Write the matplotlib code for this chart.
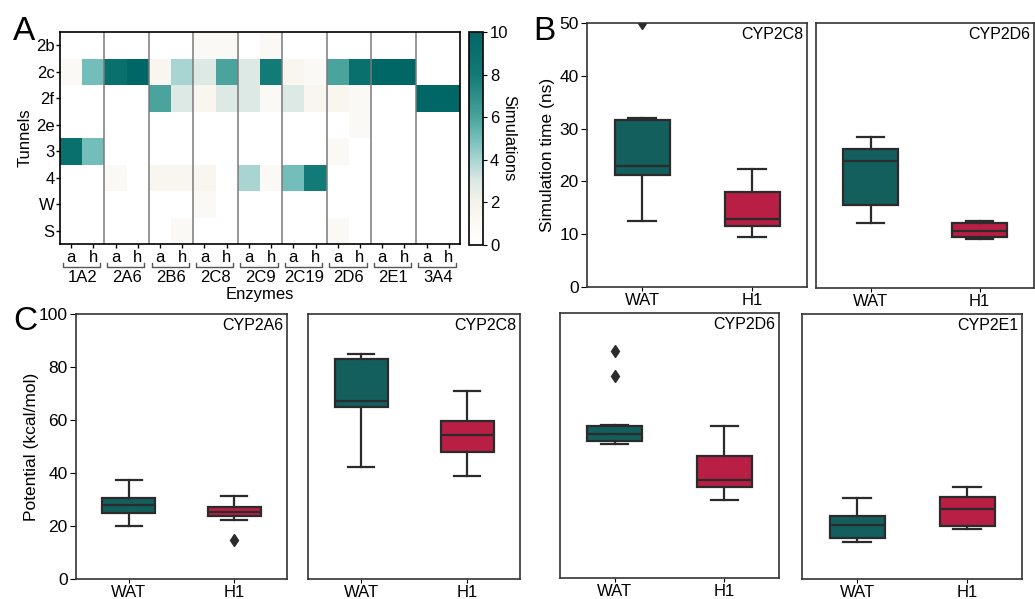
import numpy as np
import matplotlib
matplotlib.use("Agg")
import matplotlib.pyplot as plt
from matplotlib.colors import LinearSegmentedColormap
import matplotlib.transforms as mtransforms

plt.rcParams['font.family'] = ['Liberation Sans', 'DejaVu Sans']

# ---------------- data ----------------
tunnels = ['2b', '2c', '2f', '2e', '3', '4', 'W', 'S']
enzymes = ['1A2', '2A6', '2B6', '2C8', '2C9', '2C19', '2D6', '2E1', '3A4']
subcols = ['a', 'h']

row_2b = [0, 0, 0, 0, 0, 0, 1, 1, 0, 1, 0, 0, 0, 0, 0, 0, 0, 0]
row_2c = [1, 5, 9, 10, 1.5, 4, 3, 6, 3, 8, 1.5, 1, 6, 9, 10, 10, 0, 0]
row_2f = [0, 0, 0, 0, 6, 3, 1.5, 3, 3, 1, 3, 1.5, 1.5, 1, 0, 0, 10, 10]
row_2e = [0, 0, 0, 0, 0, 0, 0, 0, 0, 0, 0, 0, 0, 1, 0, 0, 0, 0]
row_3 = [9, 5, 0, 0, 0, 0, 0, 0, 0, 0, 0, 0, 1, 0, 0, 0, 0, 0]
row_4 = [0, 0, 1, 0, 1.5, 1.5, 1.5, 0, 4, 1, 5, 8, 0, 0, 0, 0, 0, 0]
row_W = [0, 0, 0, 0, 0, 0, 1, 0, 0, 0, 0, 0, 0, 0, 0, 0, 0, 0]
row_S = [0, 0, 0, 0, 0, 1, 0, 0, 0, 0, 0, 0, 1, 0, 0, 0, 0, 0]

groups = ['WAT', 'H1']
# box stats: [whislo, q1, median, q3, whishi]
b_2c8_wat = [12.5, 21.2, 22.9, 31.6, 32.1]; b_2c8_wat_fl = [50.0]
b_2c8_h1 = [9.4, 11.5, 12.9, 17.9, 22.4];   b_2c8_h1_fl = []
b_2d6_wat = [12.3, 15.7, 23.9, 26.2, 28.5]; b_2d6_wat_fl = []
b_2d6_h1 = [9.3, 9.6, 10.7, 12.2, 12.7];    b_2d6_h1_fl = []

c_2a6_wat = [19.9, 24.9, 27.8, 30.5, 37.4]; c_2a6_wat_fl = []
c_2a6_h1 = [22.3, 23.7, 25.4, 27.2, 31.2];  c_2a6_h1_fl = [14.6]
c_2c8_wat = [42.3, 64.9, 67.3, 83.0, 85.0]; c_2c8_wat_fl = []
c_2c8_h1 = [39.0, 47.9, 54.2, 59.6, 70.9];  c_2c8_h1_fl = []
c_2d6_wat = [50.7, 51.7, 54.2, 57.2, 57.6]; c_2d6_wat_fl = [76.1, 85.5]
c_2d6_h1 = [29.3, 34.2, 37.1, 46.2, 57.2];  c_2d6_h1_fl = []
c_2e1_wat = [14.1, 15.6, 20.4, 23.8, 30.6]; c_2e1_wat_fl = []
c_2e1_h1 = [18.9, 19.9, 26.3, 30.8, 34.8];  c_2e1_h1_fl = []

# ---------------- style ----------------
TEAL = '#125f5e'
CRIMSON = '#b91e44'
EDGE = '#2b2b2b'
FS = 12
FSY = 12.5

W, H = 1035, 599
fig = plt.figure(figsize=(W / 100, H / 100), dpi=100)


def px_axes(x0, y0, x1, y1):
    return fig.add_axes([x0 / W, (H - y1) / H, (x1 - x0) / W, (y1 - y0) / H])


# ---------------- panel A ----------------
axA = px_axes(60, 32, 460, 244)
heat = np.array([row_2b, row_2c, row_2f, row_2e, row_3, row_4, row_W, row_S], dtype=float)
cmap = LinearSegmentedColormap.from_list('sim', [
    (0.0, '#ffffff'), (0.2, '#f5f3ea'), (0.3, '#dce9e4'), (0.4, '#a8d5d2'),
    (0.5, '#74bfbb'), (0.6, '#4aa39d'), (0.8, '#127a77'), (1.0, '#006666')])
ncol = heat.shape[1]
nrow = heat.shape[0]
mesh = axA.pcolormesh(np.arange(ncol + 1), np.arange(nrow + 1), heat,
                      cmap=cmap, vmin=0, vmax=10)
axA.set_xlim(0, ncol)
axA.set_ylim(nrow, 0)
for k in range(2, ncol, 2):
    axA.axvline(k, color='#7a7a7a', lw=1.1)
axA.set_yticks(np.arange(nrow) + 0.5)
axA.set_yticklabels(tunnels, fontsize=FS)
axA.set_xticks(np.arange(ncol) + 0.5)
axA.set_xticklabels(subcols * len(enzymes), fontsize=FS)
axA.tick_params(axis='both', length=3, width=1, pad=1)
axA.set_ylabel('Tunnels', fontsize=FS, labelpad=2)
for s in axA.spines.values():
    s.set_linewidth(1.2)

trans = mtransforms.blended_transform_factory(axA.transData, axA.transAxes)
yb = -0.108
ytk = -0.088
for i, name in enumerate(enzymes):
    x0 = 2 * i + 0.12
    x1 = 2 * i + 2 - 0.2
    axA.plot([x0, x0, x1, x1], [ytk, yb, yb, ytk], color='#555555', lw=1,
             transform=trans, clip_on=False)
    axA.text(2 * i + 1, -0.16, name, transform=trans, ha='center', va='center',
             fontsize=FS)
axA.text(0.5, -0.24, 'Enzymes', transform=axA.transAxes, ha='center', va='center',
         fontsize=FS)

cax = px_axes(469, 32, 483, 245)
cb = fig.colorbar(mesh, cax=cax, ticks=[0, 2, 4, 6, 8, 10])
cb.ax.tick_params(labelsize=FS, length=3, pad=2)
cb.set_label('Simulations', rotation=270, fontsize=FS, labelpad=6)
cb.outline.set_linewidth(1.2)


# ---------------- boxplots ----------------
def stats(vals, fl, label):
    return dict(whislo=vals[0], q1=vals[1], med=vals[2], q3=vals[3], whishi=vals[4],
                fliers=fl, label=label)


def draw_box(ax, s_wat, s_h1, ylim, title, show_y):
    art = ax.bxp([s_wat, s_h1], positions=[0, 1], widths=0.5, patch_artist=True,
                 boxprops=dict(edgecolor=EDGE, linewidth=1.6),
                 medianprops=dict(color=EDGE, linewidth=1.6),
                 whiskerprops=dict(color=EDGE, linewidth=1.6),
                 capprops=dict(color=EDGE, linewidth=1.6),
                 flierprops=dict(marker='d', markerfacecolor=EDGE, markeredgecolor=EDGE,
                                 markersize=6))
    art['boxes'][0].set_facecolor(TEAL)
    art['boxes'][1].set_facecolor(CRIMSON)
    ax.set_xlim(-0.5, 1.5)
    ax.set_ylim(*ylim)
    ax.set_xticks([0, 1])
    ax.set_xticklabels(groups, fontsize=FS)
    ax.tick_params(axis='x', length=3, pad=1.5)
    if show_y:
        ax.tick_params(axis='y', labelsize=FSY, length=4, pad=2)
    else:
        ax.tick_params(axis='y', left=False, labelleft=False)
    for s in ax.spines.values():
        s.set_linewidth(1.2)
        s.set_color('#333333')
    ax.text(0.985, 0.985, title, transform=ax.transAxes, ha='right', va='top',
            fontsize=11.5)


axB1 = px_axes(587, 23, 807, 287)
draw_box(axB1, stats(b_2c8_wat, b_2c8_wat_fl, 'WAT'), stats(b_2c8_h1, b_2c8_h1_fl, 'H1'),
         (0, 50), 'CYP2C8', True)
axB1.set_yticks([0, 10, 20, 30, 40, 50])
axB1.set_ylabel('Simulation time (ns)', fontsize=FSY, labelpad=3)

axB2 = px_axes(816, 23, 1034, 288)
draw_box(axB2, stats(b_2d6_wat, b_2d6_wat_fl, 'WAT'), stats(b_2d6_h1, b_2d6_h1_fl, 'H1'),
         (0, 50), 'CYP2D6', False)

axC1 = px_axes(76, 314, 287, 579)
draw_box(axC1, stats(c_2a6_wat, c_2a6_wat_fl, 'WAT'), stats(c_2a6_h1, c_2a6_h1_fl, 'H1'),
         (0, 100), 'CYP2A6', True)
axC1.set_yticks([0, 20, 40, 60, 80, 100])
axC1.set_ylabel('Potential (kcal/mol)', fontsize=FSY, labelpad=0)

axC2 = px_axes(308, 314, 520, 579)
draw_box(axC2, stats(c_2c8_wat, c_2c8_wat_fl, 'WAT'), stats(c_2c8_h1, c_2c8_h1_fl, 'H1'),
         (0, 100), 'CYP2C8', False)

axC3 = px_axes(560, 313, 779, 578)
draw_box(axC3, stats(c_2d6_wat, c_2d6_wat_fl, 'WAT'), stats(c_2d6_h1, c_2d6_h1_fl, 'H1'),
         (0, 100), 'CYP2D6', False)

axC4 = px_axes(802, 314, 1022, 579)
draw_box(axC4, stats(c_2e1_wat, c_2e1_wat_fl, 'WAT'), stats(c_2e1_h1, c_2e1_h1_fl, 'H1'),
         (0, 100), 'CYP2E1', False)

# panel letters
fig.text(13 / W, 1 - 31 / H, 'A', fontsize=24, ha='left', va='center')
fig.text(533 / W, 1 - 31 / H, 'B', fontsize=24, ha='left', va='center')
fig.text(13 / W, 1 - 322 / H, 'C', fontsize=24, ha='left', va='center')

fig.savefig('out.png', dpi=100)
